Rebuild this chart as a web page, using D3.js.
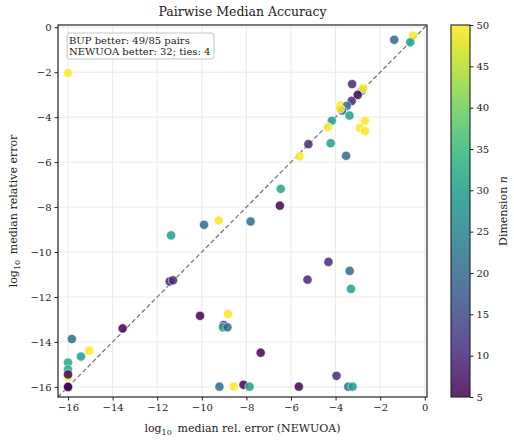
<!DOCTYPE html>
<html>
<head>
<meta charset="utf-8">
<script src="https://cdn.jsdelivr.net/npm/d3@7"></script>
<style>
  body { margin: 0; background: #fff; }
  svg text { font-family: "DejaVu Serif", serif; fill: #222; }
</style>
</head>
<body>
<div id="chart"></div>
<script>
// log10 median rel. error, NEWUOA (x) vs BUP (y), coloured by dimension n
const newuoaErr = [
  -16.0, -1.37, -0.52, -0.65, -3.26, -2.83, -2.76, -3.01, -3.28, -3.79,
  -3.50, -3.71, -3.38, -4.17, -2.68, -2.91, -2.68, -4.34, -5.22, -4.22,
  -3.53, -5.62, -6.46, -6.50, -9.90, -9.24, -11.38, -11.44, -11.29, -10.08,
  -8.83, -9.02, -9.05, -8.85, -13.55, -15.83, -15.05, -15.42, -16.0, -16.0,
  -16.0, -16.0, -16.0, -16.0, -9.21, -8.57, -8.13, -7.81, -4.32, -3.37,
  -5.26, -3.31, -7.36, -3.96, -7.86, -5.65, -3.43, -3.24, -16.0, -3.80
];
const bupErr = [
  -2.04, -0.56, -0.37, -0.67, -2.53, -2.82, -2.71, -3.01, -3.28, -3.48,
  -3.50, -3.71, -3.93, -4.16, -4.16, -4.48, -4.62, -4.44, -5.20, -5.16,
  -5.72, -5.75, -7.19, -7.94, -8.79, -8.60, -9.26, -11.31, -11.26, -12.84,
  -12.76, -13.25, -13.35, -13.35, -13.40, -13.87, -14.39, -14.65, -14.92, -15.23,
  -15.56, -15.45, -16.0, -16.0, -15.99, -15.99, -15.91, -8.64, -10.44, -10.84,
  -11.23, -11.64, -14.48, -15.51, -15.99, -15.99, -15.99, -15.99, -16.0, -3.62
];
const dims = [
  50, 20, 50, 30, 10, 30, 50, 5, 10, 50,
  20, 20, 30, 30, 50, 50, 50, 50, 10, 30,
  20, 50, 32, 5, 20, 50, 30, 10, 10, 5,
  50, 10, 30, 20, 5, 20, 50, 30, 32, 32,
  50, 5, 20, 10, 20, 50, 5, 20, 10, 20,
  10, 30, 5, 10, 30, 5, 20, 30, 5, 50
];

const axisTicks = [-16, -14, -12, -10, -8, -6, -4, -2, 0];
const cbarTicks = [5, 10, 15, 20, 25, 30, 35, 40, 45, 50];
const axisLimits = [-16.45, 0.1];
const dimRange = [5, 50];
const summaryLines = ["BUP better: 49/85 pairs", "NEWUOA better: 32; ties: 4"];

const W = 514, H = 442;
const plot = { left: 58, right: 427, top: 25, bottom: 397 };
const cbar = { left: 451, right: 470 };

const svg = d3.select("#chart").append("svg").attr("width", W).attr("height", H);

const x = d3.scaleLinear().domain(axisLimits).range([plot.left, plot.right]);
const y = d3.scaleLinear().domain(axisLimits).range([plot.bottom, plot.top]);
const color = d3.scaleSequential(d3.interpolateViridis).domain(dimRange);

// grid
const grid = svg.append("g");
grid.selectAll(".gx").data(axisTicks).enter().append("line")
  .attr("x1", d => x(d)).attr("x2", d => x(d))
  .attr("y1", plot.top).attr("y2", plot.bottom)
  .attr("stroke", "#e8e8e8").attr("stroke-width", 0.9);
grid.selectAll(".gy").data(axisTicks).enter().append("line")
  .attr("y1", d => y(d)).attr("y2", d => y(d))
  .attr("x1", plot.left).attr("x2", plot.right)
  .attr("stroke", "#e8e8e8").attr("stroke-width", 0.9);

// diagonal y = x
svg.append("line")
  .attr("x1", x(axisLimits[0])).attr("y1", y(axisLimits[0]))
  .attr("x2", x(axisLimits[1])).attr("y2", y(axisLimits[1]))
  .attr("stroke", "#7a7a7a").attr("stroke-width", 1.3)
  .attr("stroke-dasharray", "4.5,2.5");

// points
const pts = newuoaErr.map((v, i) => ({ x: v, y: bupErr[i], n: dims[i] }));
svg.append("g").selectAll("circle").data(pts).enter().append("circle")
  .attr("cx", d => x(d.x)).attr("cy", d => y(d.y)).attr("r", 4.6)
  .attr("fill", d => color(d.n)).attr("fill-opacity", 0.85)
  .attr("stroke", "#fff").attr("stroke-width", 0.7).attr("stroke-opacity", 0.8);

// axes
const xAxis = svg.append("g").attr("transform", `translate(0,${plot.bottom})`)
  .call(d3.axisBottom(x).tickValues(axisTicks).tickSize(3.5).tickPadding(3)
    .tickFormat(d => d < 0 ? "\u2212" + Math.abs(d) : d));
const yAxis = svg.append("g").attr("transform", `translate(${plot.left},0)`)
  .call(d3.axisLeft(y).tickValues(axisTicks).tickSize(3.5).tickPadding(3)
    .tickFormat(d => d < 0 ? "\u2212" + Math.abs(d) : d));
[xAxis, yAxis].forEach(a => {
  a.select(".domain").remove();
  a.selectAll("line").attr("stroke", "#222");
  a.selectAll("text").attr("font-family", "DejaVu Serif").attr("font-size", 10).attr("fill", "#222");
});

// frame
svg.append("rect")
  .attr("x", plot.left).attr("y", plot.top)
  .attr("width", plot.right - plot.left).attr("height", plot.bottom - plot.top)
  .attr("fill", "none").attr("stroke", "#222").attr("stroke-width", 1.2);

// summary box
const box = svg.append("g");
const boxRect = box.append("rect")
  .attr("x", 67).attr("y", 33).attr("width", 147).attr("height", 26)
  .attr("rx", 2.5).attr("fill", "#fff").attr("fill-opacity", 0.9)
  .attr("stroke", "#bdbdbd").attr("stroke-width", 0.9);
summaryLines.forEach((t, i) => {
  box.append("text").attr("x", 69).attr("y", 43.5 + i * 11.5)
    .attr("font-size", 10).text(t);
});

// title and labels
svg.append("text").attr("x", (plot.left + plot.right) / 2).attr("y", 16)
  .attr("text-anchor", "middle").attr("font-size", 12.5).text("Pairwise Median Accuracy");

const xl = svg.append("text").attr("x", (plot.left + plot.right) / 2).attr("y", 432)
  .attr("text-anchor", "middle").attr("font-size", 11);
xl.append("tspan").text("log");
xl.append("tspan").attr("font-size", 8).attr("dy", 3).text("10");
xl.append("tspan").attr("dy", -3).text("\u2009 median rel. error (NEWUOA)");

const yl = svg.append("text")
  .attr("transform", `translate(17,${(plot.top + plot.bottom) / 2}) rotate(-90)`)
  .attr("text-anchor", "middle").attr("font-size", 11);
yl.append("tspan").text("log");
yl.append("tspan").attr("font-size", 8).attr("dy", 3).text("10");
yl.append("tspan").attr("dy", -3).text("\u2009 median relative error");

// colorbar
const defs = svg.append("defs");
const grad = defs.append("linearGradient").attr("id", "vir")
  .attr("x1", 0).attr("y1", 1).attr("x2", 0).attr("y2", 0);
d3.range(0, 1.0001, 0.05).forEach(t => {
  grad.append("stop").attr("offset", t).attr("stop-color", d3.interpolateViridis(t));
});
const cy = d3.scaleLinear().domain(dimRange).range([plot.bottom, plot.top]);
svg.append("rect")
  .attr("x", cbar.left).attr("y", plot.top)
  .attr("width", cbar.right - cbar.left).attr("height", plot.bottom - plot.top)
  .attr("fill", "url(#vir)").attr("fill-opacity", 0.85)
  .attr("stroke", "#222").attr("stroke-width", 1.1);
const cAxis = svg.append("g").attr("transform", `translate(${cbar.right},0)`)
  .call(d3.axisRight(cy).tickValues(cbarTicks).tickSize(3.5).tickPadding(3));
cAxis.select(".domain").remove();
cAxis.selectAll("line").attr("stroke", "#222");
cAxis.selectAll("text").attr("font-family", "DejaVu Serif").attr("font-size", 10).attr("fill", "#222");

const cl = svg.append("text")
  .attr("transform", `translate(507,${(plot.top + plot.bottom) / 2}) rotate(-90)`)
  .attr("text-anchor", "middle").attr("font-size", 11);
cl.append("tspan").text("Dimension ");
cl.append("tspan").attr("font-style", "italic").text("n");
</script>
</body>
</html>
